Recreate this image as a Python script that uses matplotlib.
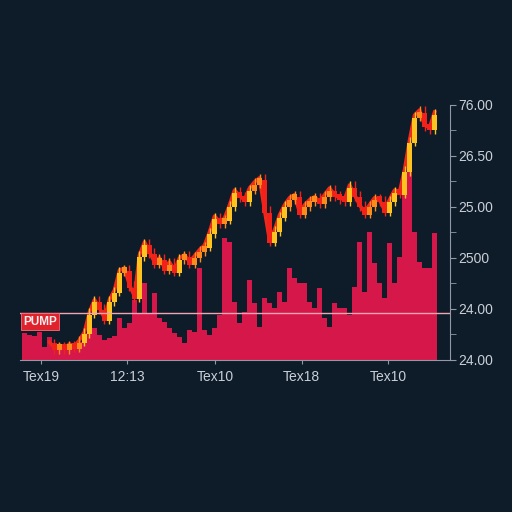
"""
Dark trading-style chart: red volume bars with a candle-like price trace,
a PUMP marker line, and a right-hand price axis.
"""

import numpy as np
import matplotlib.pyplot as plt

# ---------------------------------------------------------------------------
# Data
# ---------------------------------------------------------------------------
volume = [0.53, 0.49, 0.47, 0.55, 0.25, 0.45, 0.33, 0.29, 0.25, 0.27,
          0.31, 0.35, 0.53, 0.59, 0.63, 0.49, 0.39, 0.43, 0.47, 0.82,
          0.63, 0.73, 1.18, 0.92, 1.51, 0.92, 1.31, 0.82, 0.75, 0.63,
          0.53, 0.45, 0.33, 0.59, 0.55, 1.80, 0.59, 0.49, 0.63, 0.88,
          2.39, 2.31, 1.14, 0.73, 0.94, 1.57, 1.12, 0.65, 1.22, 1.12,
          1.02, 1.33, 1.14, 1.80, 1.61, 1.51, 1.51, 1.14, 1.02, 1.41,
          0.82, 0.65, 1.12, 1.02, 1.02, 0.88, 1.43, 2.31, 1.33, 2.51,
          1.90, 1.51, 1.22, 2.29, 1.51, 2.02, 3.33, 3.98, 2.51, 1.92,
          1.80, 1.80, 2.49]

price_start = 5  # first bar index that carries a price
price = [0.35, 0.24, 0.29, 0.24, 0.31, 0.27, 0.39, 0.55, 0.94, 1.18,
         1.02, 0.82, 1.18, 1.37, 1.76, 1.80, 1.47, 1.25, 2.06, 2.31,
         2.12, 1.92, 2.00, 1.80, 1.92, 1.76, 2.00, 2.06, 1.92, 2.04,
         2.16, 2.25, 2.51, 2.82, 2.71, 2.78, 3.04, 3.33, 3.22, 3.14,
         3.37, 3.49, 3.57, 2.94, 2.35, 2.55, 2.84, 3.04, 3.18, 3.24,
         2.90, 3.04, 3.14, 3.20, 3.10, 3.24, 3.37, 3.24, 3.18, 3.14,
         3.43, 3.24, 3.04, 2.90, 3.04, 3.18, 3.14, 2.94, 3.14, 3.33,
         3.29, 3.73, 4.31, 4.80, 4.90, 4.61, 4.55, 4.86]

pump_level = 0.92

y_ticks = [0, 1, 2, 3, 4, 5]
y_labels = ["24.00", "24.00", "2500", "25.00", "26.50", "76.00"]
x_ticks = [3.3, 20.6, 38.1, 55.4, 72.7]
x_labels = ["Tex19", "12:13", "Tex10", "Tex18", "Tex10"]

# ---------------------------------------------------------------------------
# Plot
# ---------------------------------------------------------------------------
bg = "#0e1b29"
fg = "#c9cfd6"
plt.rcParams["font.family"] = ["Liberation Sans", "DejaVu Sans"]

fig = plt.figure(figsize=(5.12, 5.12), dpi=100, facecolor=bg)
ax = fig.add_axes([0.039, 0.297, 0.84, 0.498], facecolor=bg)

xb = np.arange(len(volume))
ax.bar(xb, volume, width=0.86, color="#d6174a", zorder=2)

# price trace: red line plus candle-like bodies
xp = np.arange(len(price)) + price_start
ax.plot(xp, price, color="#ee2a1c", lw=2.6, zorder=3)
for k in range(1, len(price)):
    o, c = price[k - 1], price[k]
    if c - o > 0.15:
        col = "#ffc21f"
    elif c > o:
        col = "#ff8a1c"
    else:
        col = "#f2221a"
    lo, hi = min(o, c), max(o, c)
    ax.vlines(xp[k], lo - 0.12, hi + 0.07, color=col, lw=1.0, zorder=3)
    ax.bar(xp[k], max(hi - lo, 0.12), bottom=lo - 0.05, width=0.9,
           color=col, zorder=4)

# PUMP marker
ax.axhline(pump_level, color="#f0a5b5", lw=1.0, zorder=5)
ax.text(-0.3, pump_level - 0.05, "PUMP", color="#f6eeee", fontsize=8.5,
        fontweight="bold", ha="left", va="top", zorder=6,
        bbox=dict(boxstyle="square,pad=0.18", fc="#e0222c", ec="#ff6a78", lw=0.6))

ax.set_xlim(-0.9, 85.1)
ax.set_ylim(0, 5)

for s in ["top", "left"]:
    ax.spines[s].set_visible(False)
ax.spines["right"].set_color("#8f9aa6")
ax.spines["bottom"].set_color("#8f9aa6")

ax.yaxis.tick_right()
ax.set_yticks(y_ticks)
ax.set_yticklabels(y_labels)
ax.set_yticks(np.arange(0.5, 5, 1), minor=True)
ax.tick_params(axis="y", which="both", colors="#8f9aa6", labelcolor=fg,
               labelsize=10, length=4, pad=2)
ax.set_xticks(x_ticks)
ax.set_xticklabels(x_labels)
ax.tick_params(axis="x", colors="#8f9aa6", labelcolor=fg, labelsize=10,
               length=3, pad=4)

fig.savefig("out.png", dpi=100, facecolor=bg)
